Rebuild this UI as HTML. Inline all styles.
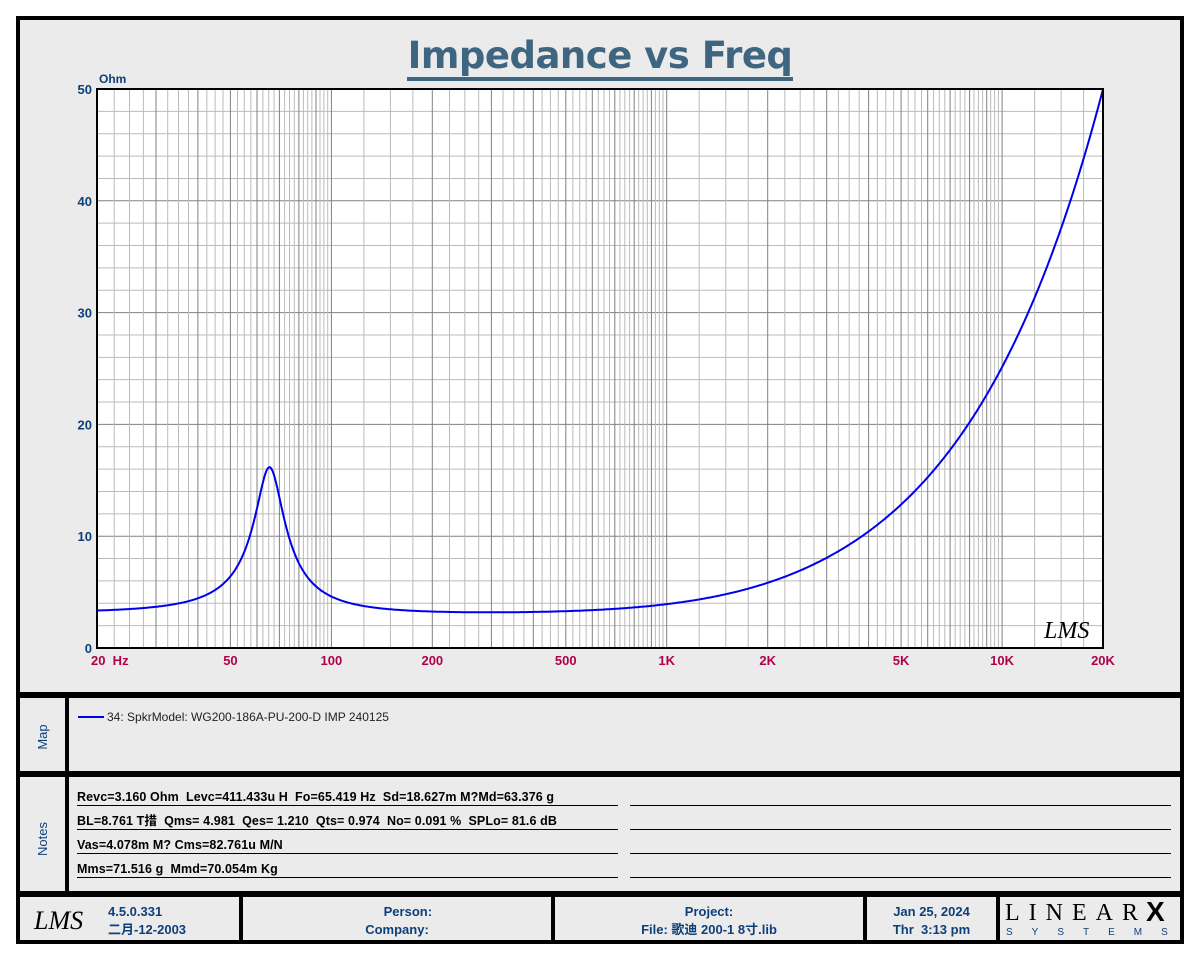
<!DOCTYPE html>
<html><head><meta charset="utf-8">
<style>
html,body{margin:0;padding:0;background:#fff;}
body{width:1200px;height:960px;position:relative;overflow:hidden;font-family:"Liberation Sans","Noto Sans CJK SC",sans-serif;}
.abs{position:absolute;}
.blk{position:absolute;background:#000;}
.b{color:#0d3f7a;font-weight:bold;font-size:13px;}
.note{position:absolute;left:77px;font-size:12.5px;line-height:15px;height:15px;color:#000;font-weight:bold;letter-spacing:0.1px;white-space:nowrap;}
.ul{position:absolute;height:1px;background:#000;}
</style></head><body>
<div class="abs" style="left:16px;top:16px;width:1168px;height:928px;background:#ebebeb;"></div>
<div class="blk" style="left:16px;top:16px;width:1168px;height:4px"></div>
<div class="blk" style="left:16px;top:940px;width:1168px;height:4px"></div>
<div class="blk" style="left:16px;top:16px;width:4px;height:928px"></div>
<div class="blk" style="left:1180px;top:16px;width:4px;height:928px"></div>
<div class="blk" style="left:16px;top:692px;width:1168px;height:6px"></div>
<div class="blk" style="left:16px;top:771px;width:1168px;height:6px"></div>
<div class="blk" style="left:16px;top:891px;width:1168px;height:6px"></div>
<div class="blk" style="left:65px;top:692px;width:4px;height:200px"></div>
<div class="blk" style="left:239px;top:891px;width:4px;height:50px"></div>
<div class="blk" style="left:551px;top:891px;width:4px;height:50px"></div>
<div class="blk" style="left:863px;top:891px;width:4px;height:50px"></div>
<div class="blk" style="left:996px;top:891px;width:4px;height:50px"></div>

<div class="abs" style="left:0;width:1200px;top:34px;text-align:center;font-size:37px;font-weight:bold;color:#3f6680;font-family:'DejaVu Sans','Liberation Sans',sans-serif;letter-spacing:-0.5px;"><span style="border-bottom:4px solid #3f6680;line-height:42px;display:inline-block;padding:0 1px;">Impedance vs Freq</span></div>

<svg class="abs" style="left:0;top:0" width="1200" height="960" id="s">
<defs><clipPath id="cp"><rect x="97" y="89" width="1006" height="559"/></clipPath></defs>
<rect x="97" y="89" width="1006" height="559" fill="#fff"/>
<g id="grid"></g>
<path id="curve" d="" fill="none" stroke="#0000ee" stroke-width="2" clip-path="url(#cp)"/>
<rect x="97" y="89" width="1006" height="559" fill="none" stroke="#000" stroke-width="2"/>
<g id="lab" font-family="Liberation Sans, sans-serif" font-weight="bold" font-size="13"></g>
<text x="99" y="83" fill="#0d3f7a" font-size="12" font-weight="bold" font-family="Liberation Sans, sans-serif">Ohm</text>
<text x="1044" y="638" font-size="24" font-style="italic" font-family="Liberation Serif, serif" fill="#000">LMS</text>
<text x="1005" y="920" font-size="24" font-family="Liberation Serif, serif" fill="#000" letter-spacing="9">LINEAR</text>
<text x="1146" y="921" font-size="28" font-weight="bold" font-family="Liberation Sans, sans-serif" fill="#000">X</text>
<text x="1006" y="935" font-size="10" font-family="Liberation Sans, sans-serif" fill="#0d3f7a" letter-spacing="19">SYSTEMS</text>
<text x="34" y="929" font-size="26" font-style="italic" font-family="Liberation Serif, serif" fill="#000">LMS</text>
<line x1="78" y1="717" x2="104" y2="717" stroke="#0000ee" stroke-width="2"/>
</svg>

<div class="abs" style="left:107px;top:710px;font-size:12px;color:#222;">34: SpkrModel: WG200-186A-PU-200-D IMP 240125</div>
<div class="abs b" style="left:23px;top:722px;width:40px;height:30px;transform:rotate(-90deg);text-align:center;font-weight:normal;line-height:30px;">Map</div>
<div class="abs b" style="left:15px;top:824px;width:56px;height:30px;transform:rotate(-90deg);text-align:center;font-weight:normal;line-height:30px;">Notes</div>

<div class="note" style="top:790px">Revc=3.160 Ohm&nbsp; Levc=411.433u H&nbsp; Fo=65.419 Hz&nbsp; Sd=18.627m M?Md=63.376 g</div>
<div class="note" style="top:814px">BL=8.761 T措&nbsp; Qms= 4.981&nbsp; Qes= 1.210&nbsp; Qts= 0.974&nbsp; No= 0.091 %&nbsp; SPLo= 81.6 dB</div>
<div class="note" style="top:838px">Vas=4.078m M? Cms=82.761u M/N</div>
<div class="note" style="top:862px">Mms=71.516 g&nbsp; Mmd=70.054m Kg</div>
<div class="ul" style="left:77px;top:805px;width:541px"></div><div class="ul" style="left:630px;top:805px;width:541px"></div>
<div class="ul" style="left:77px;top:829px;width:541px"></div><div class="ul" style="left:630px;top:829px;width:541px"></div>
<div class="ul" style="left:77px;top:853px;width:541px"></div><div class="ul" style="left:630px;top:853px;width:541px"></div>
<div class="ul" style="left:77px;top:877px;width:541px"></div><div class="ul" style="left:630px;top:877px;width:541px"></div>

<div class="abs b" style="left:108px;top:903px;line-height:18px;">4.5.0.331<br>二月-12-2003</div>
<div class="abs b" style="left:243px;width:308px;top:903px;line-height:18px;text-align:center;">&nbsp;&nbsp;&nbsp;&nbsp;&nbsp;&nbsp;Person:<br>Company:</div>
<div class="abs b" style="left:555px;width:308px;top:903px;line-height:18px;text-align:center;">Project:<br>File: 歌迪 200-1 8寸.lib</div>
<div class="abs b" style="left:867px;width:129px;top:903px;line-height:18px;text-align:center;">Jan 25, 2024<br>Thr&nbsp; 3:13 pm</div>

<script>
var L=97,R=1103,T=89,B=648;
function X(f){return L+(R-L)*Math.log10(f/20)/3;}
function Y(z){return B-(B-T)*z/50;}
var g='';
for(var z=2;z<50;z+=2){var c=(z%10==0)?'#808080':'#bbbbbb';g+='<line x1="'+L+'" x2="'+R+'" y1="'+Y(z)+'" y2="'+Y(z)+'" stroke="'+c+'" stroke-width="1"/>';}
[10,100,1000,10000].forEach(function(d){for(var k=4;k<40;k++){var f=d*k/4;if(f<=20||f>=20000)continue;var maj=(f%d==0);var x=X(f).toFixed(1);g+='<line x1="'+x+'" x2="'+x+'" y1="'+T+'" y2="'+B+'" stroke="'+(maj?'#808080':'#bbbbbb')+'" stroke-width="1"/>';}});
document.getElementById('grid').innerHTML=g;
var lb='';
[[20,'20  Hz'],[50,'50'],[100,'100'],[200,'200'],[500,'500'],[1000,'1K'],[2000,'2K'],[5000,'5K'],[10000,'10K'],[20000,'20K']].forEach(function(a){var x=X(a[0]);var anchor=a[0]==20?'start':'middle';var xx=a[0]==20?91:x;lb+='<text x="'+xx+'" y="665" fill="#b0004a" text-anchor="'+anchor+'" xml:space="preserve">'+a[1]+'</text>';});
for(var z=0;z<=50;z+=10){lb+='<text x="92" y="'+(Y(z)+5)+'" fill="#0d3f7a" text-anchor="end">'+z+'</text>';}
document.getElementById('lab').innerHTML=lb;
var Re=3.16,Le=411.433e-6*0.965,fo=65.419,Qms=4.981,Qes=1.21,Rm=Re*Qms/Qes;
var d='';
for(var i=0;i<=1006;i++){var f=20*Math.pow(1000,i/1006);var q=Qms*(f/fo-fo/f);var den=1+q*q;var re=Re+Rm/den;var im=2*Math.PI*f*Le-Rm*q/den;var zz=Math.sqrt(re*re+im*im);d+=(i?'L':'M')+(L+i).toFixed(1)+' '+Y(zz).toFixed(1);}
document.getElementById('curve').setAttribute('d',d);
</script>
</body></html>
